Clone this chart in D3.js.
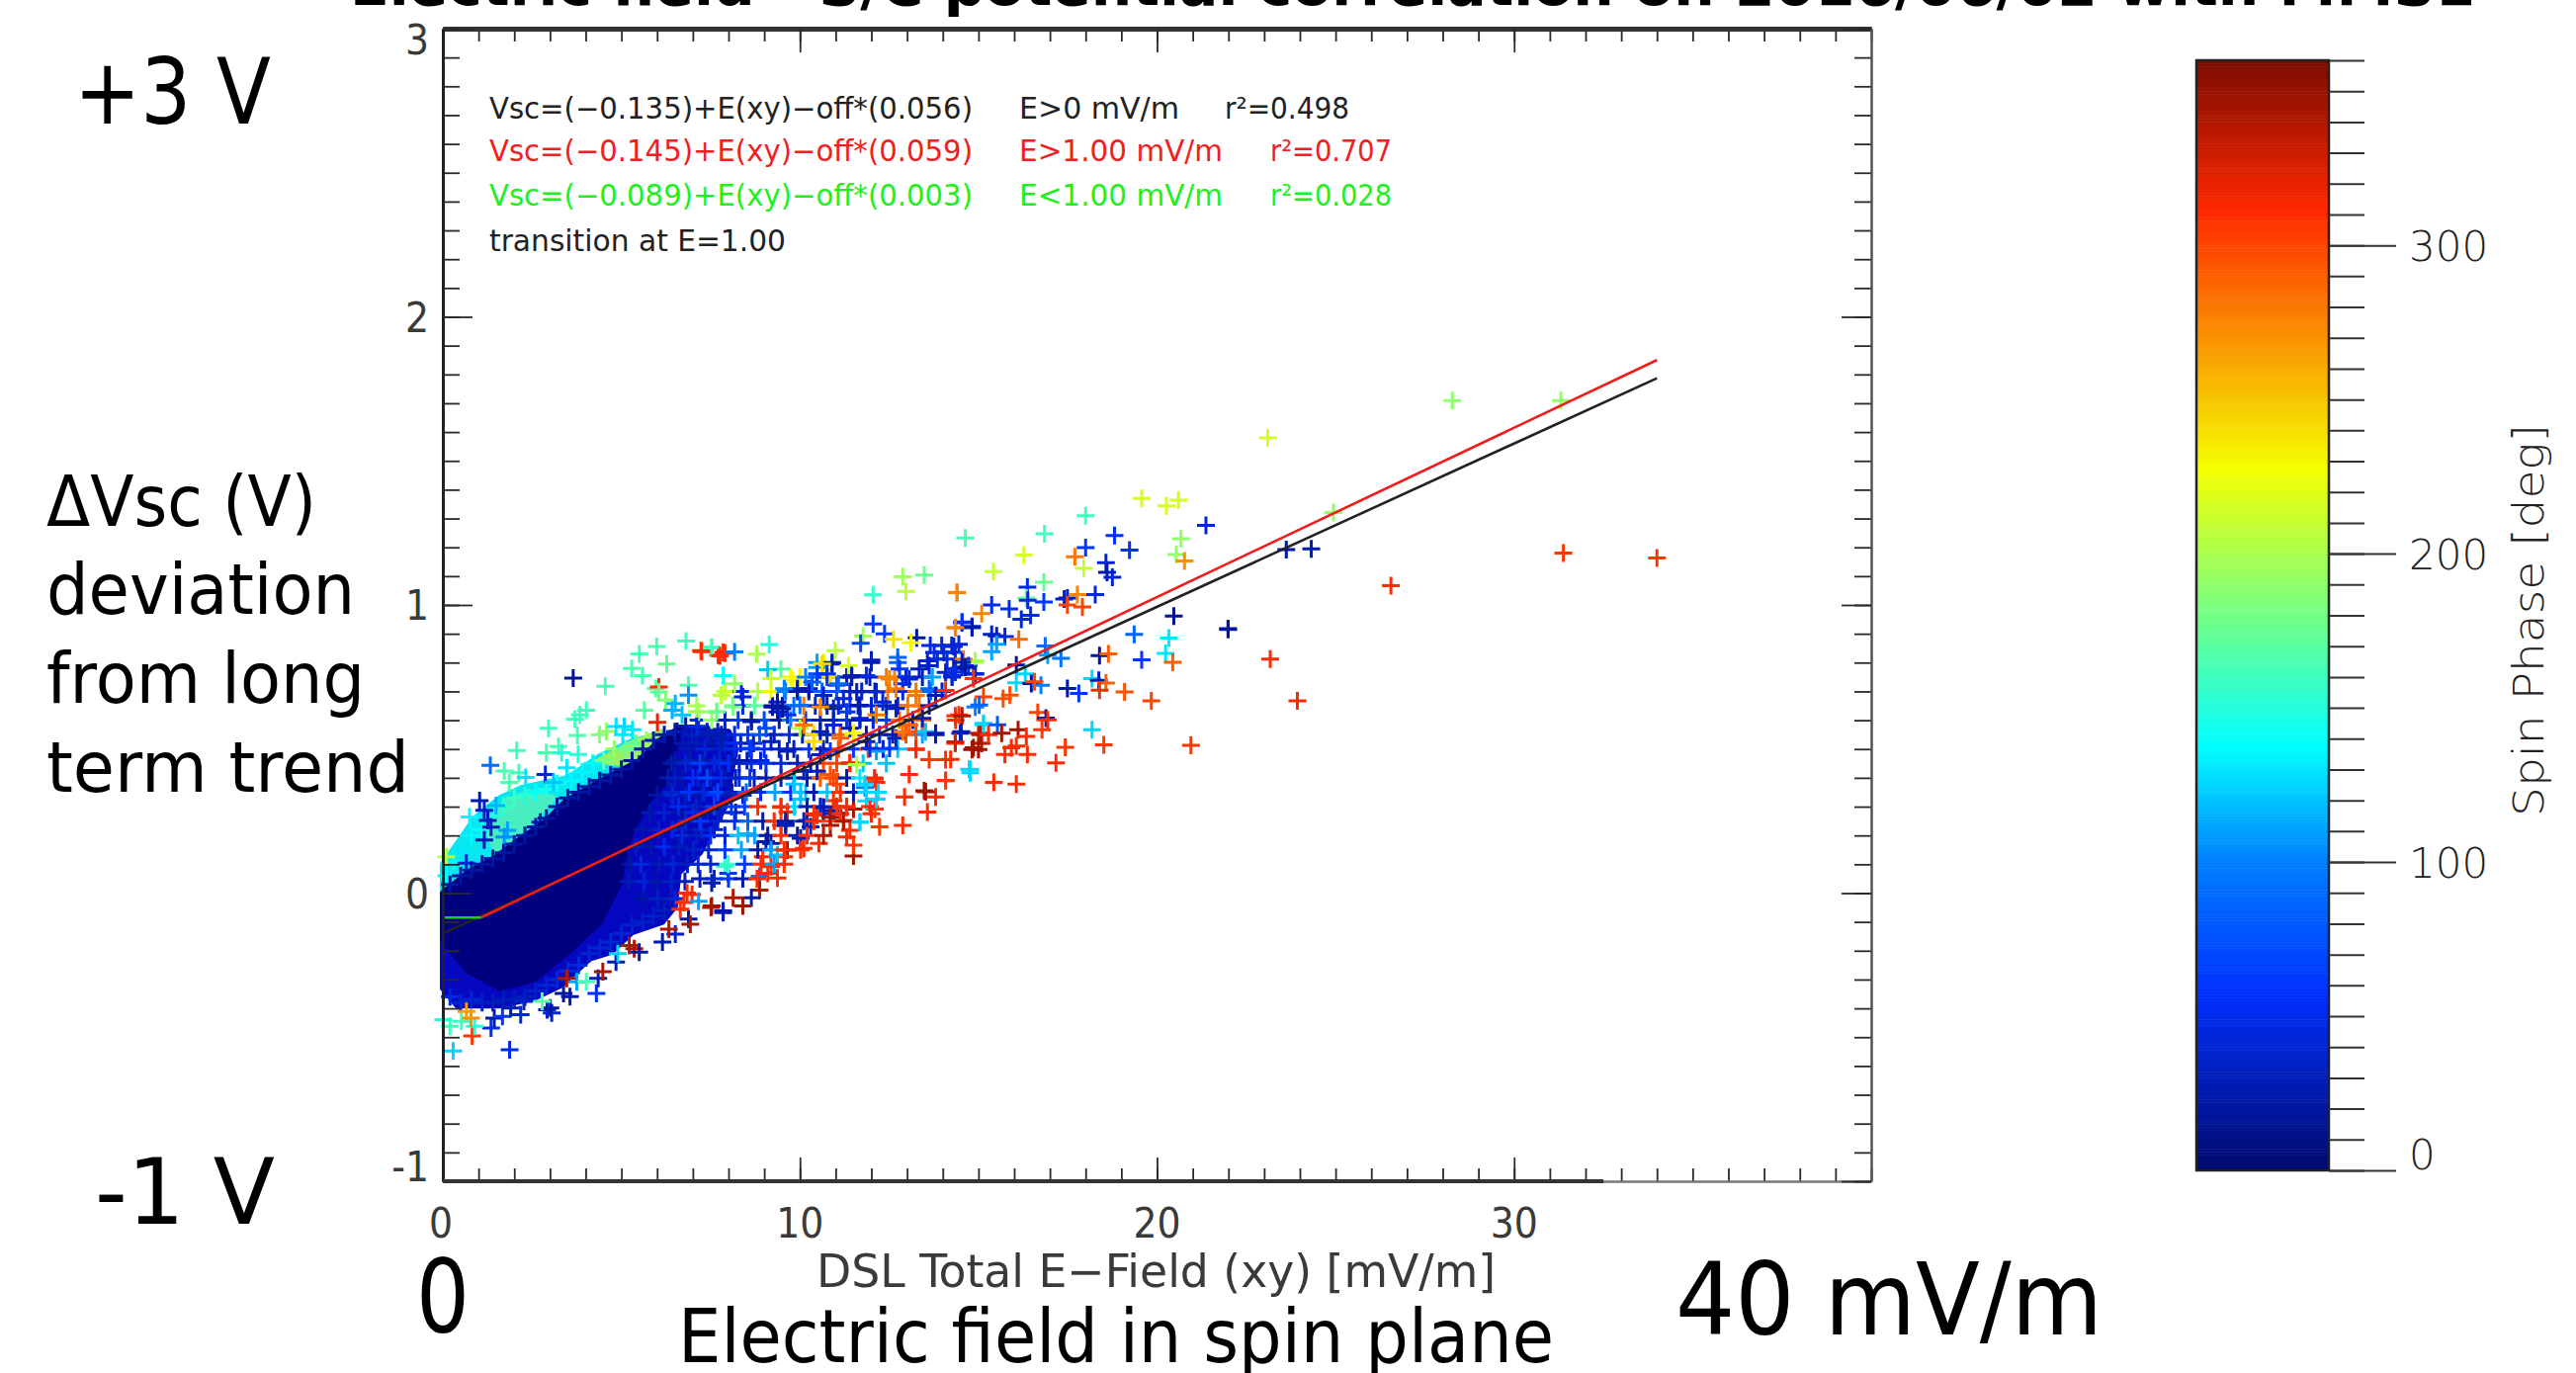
<!DOCTYPE html>
<html>
<head>
<meta charset="utf-8">
<script src="https://cdn.jsdelivr.net/npm/d3@7"></script>
<style>
    html, body { margin: 0; padding: 0; background: #fff; overflow: hidden; }
    text { font-family: "DejaVu Sans", sans-serif; }
    .idl { font-family: "Liberation Sans Narrow", "DejaVu Sans Condensed", sans-serif; fill: #3a3a3a; }
</style>
</head>
<body>
<div id="chart-area"></div>
<script>
// colour table of the spin phase bar
const phaseStops = [0, 57, 100, 137, 227, 311, 360];
const phaseColors = ["#000a6e", "#0030ff", "#0080ff", "#00ffff", "#f5ff00", "#ff2800", "#7a0b00"];

const xTicks = [0, 10, 20, 30];
const yTicks = [-1, 0, 1, 2, 3];
const phaseTicks = [0, 100, 200, 300];

// fit lines
const blackFit = [[0, -0.14], [34, 1.787]];
const redFit = [[1.07, -0.085], [34, 1.85]];
const greenFit = [[0, -0.085], [1.07, -0.085]];

// the middle of the cloud is solid in the picture, single crosses can't be told apart,
// so it is drawn as outlines read from its edges, [E, V]
const cyanOutline = [[0, -0.05], [0, 0.1], [0.4, 0.17], [0.9, 0.26], [1.6, 0.33], [2.2, 0.365], [3.5, 0.4], [4.4, 0.475], [5.3, 0.527], [6.05, 0.55], [6.05, 0.5], [4.4, 0.36], [3, 0.23], [1.5, 0.09], [0.5, 0]];
const greenOutline = [[1.3, 0.2], [1.7, 0.31], [2.4, 0.35], [3.1, 0.33], [2.6, 0.26], [2, 0.2], [1.5, 0.15]];
const limeOutline = [[4.4, 0.46], [5.3, 0.52], [6.1, 0.56], [5.8, 0.5], [5, 0.45]];
const blueOutline = [[0, -0.1], [0, -0.33], [0.4, -0.39], [1.6, -0.39], [2.55, -0.365], [3.3, -0.32], [4.1, -0.228], [4.7, -0.205], [5.3, -0.136], [6.15, -0.1], [6.5, -0.046], [6.6, 0.07], [7.2, 0.14], [7.9, 0.3], [8.2, 0.5], [8, 0.56], [6.6, 0.57], [5.5, 0.45], [3, 0.2]];
const navyOutline = [[0, 0], [0.7, 0.07], [1.5, 0.125], [2.1, 0.18], [2.9, 0.25], [3.46, 0.32], [4.1, 0.365], [4.76, 0.41], [5.5, 0.458], [6.05, 0.527], [6.6, 0.57], [6.3, 0.4], [5.8, 0.33], [5.3, 0.22], [5.1, 0.15], [4.95, 0.035], [4.4, -0.1], [3.5, -0.205], [2.55, -0.3], [1.6, -0.33], [0.7, -0.27], [0, -0.16]];

// crosses along the edges of the solid part, [E, V, phase]
const crossesCyanEdge = [[0.1, 0.06, 135], [0.3, 0.11, 135], [0.5, 0.14, 130], [0.8, 0.2, 135], [1.1, 0.22, 140], [1.4, 0.27, 150], [1.7, 0.3, 155], [2, 0.33, 160], [2.3, 0.34, 150], [2.6, 0.35, 140], [2.9, 0.36, 145], [3.2, 0.38, 140], [3.6, 0.39, 135], [3.9, 0.42, 135], [4.2, 0.45, 135], [4.5, 0.46, 180], [4.8, 0.5, 190], [5.1, 0.5, 175], [5.4, 0.52, 170], [5.7, 0.53, 195]];
const crossesCoreTop = [[0.2, 0.03, 20], [0.5, 0.06, 20], [0.8, 0.08, 20], [1.1, 0.1, 20], [1.4, 0.12, 20], [1.7, 0.14, 20], [2, 0.17, 20], [2.3, 0.2, 20], [2.6, 0.23, 20], [2.9, 0.26, 20], [3.2, 0.3, 20], [3.5, 0.33, 20], [3.8, 0.35, 20], [4.1, 0.37, 20], [4.4, 0.39, 20], [4.7, 0.41, 20], [5, 0.43, 20], [5.3, 0.46, 20], [5.6, 0.5, 25], [5.9, 0.53, 25], [6.2, 0.55, 25], [6.5, 0.56, 25], [6.8, 0.58, 25], [7.1, 0.55, 25], [7.4, 0.56, 30], [7.7, 0.56, 30]];
const crossesCoreBottom = [[0.2, -0.36, 45], [0.5, -0.38, 40], [0.8, -0.37, 40], [1.1, -0.38, 35], [1.4, -0.38, 30], [1.7, -0.37, 30], [2, -0.37, 30], [2.3, -0.36, 30], [2.6, -0.34, 35], [2.9, -0.32, 40], [3.2, -0.3, 40], [3.5, -0.27, 45], [3.8, -0.25, 45], [4.1, -0.21, 40], [4.4, -0.19, 40], [4.7, -0.17, 40], [5, -0.14, 40], [5.3, -0.11, 35], [5.6, -0.1, 35], [5.9, -0.08, 35], [6.2, -0.06, 30], [6.5, -0.02, 40]];

// the blue right end of the solid part, a rough reading row by row
const blueRows = [
    { v: -0.02, e: [5.6, 6.02, 6.38], p: [20, 32, 25] },
    { v: 0.04, e: [5.2, 5.64, 5.98, 6.4, 6.78], p: [25, 40, 20, 35, 30] },
    { v: 0.1, e: [5.25, 5.55, 6.05, 6.45], p: [20, 45, 25, 40] },
    { v: 0.16, e: [5.4, 5.82, 6.2, 6.62], p: [30, 20, 50, 28] },
    { v: 0.22, e: [5.6, 6.05, 6.42, 6.8, 7.24, 7.6], p: [20, 35, 45, 22, 40, 30] },
    { v: 0.28, e: [5.8, 6.2, 6.64, 7, 7.42, 7.8, 8.2], p: [22, 38, 20, 48, 25, 35, 30] },
    { v: 0.34, e: [6, 6.44, 6.8, 7.22, 7.6, 8.04, 8.4], p: [20, 45, 30, 22, 52, 25, 40] },
    { v: 0.4, e: [6.3, 6.7, 7.14, 7.5, 7.92, 8.3, 8.72], p: [24, 20, 40, 28, 20, 45, 25] },
    { v: 0.46, e: [6.5, 6.92, 7.3, 7.74, 8.1, 8.52, 8.9], p: [20, 30, 22, 42, 26, 20, 35] },
    { v: 0.52, e: [6.72, 7.1, 7.54, 7.9, 8.34, 8.7], p: [22, 28, 20, 38, 24, 30] }
];

// the crowded part, read row by row: one V, then its E values and phases
const denseRows = [
    { v: 0.05, e: [7.2, 7.6, 8, 8.4, 8.8], p: [30, 40, 60, 25, 310] },
    { v: 0.1, e: [6.85, 7.15, 7.5, 7.99, 8.45, 8.91, 9.28, 9.56], p: [30, 45, 40, 155, 60, 310, 110, 310] },
    { v: 0.15, e: [7.02, 7.44, 7.9, 8.36, 8.82, 9.19, 9.56, 10.02], p: [35, 40, 60, 110, 25, 110, 310, 310] },
    { v: 0.2, e: [6.7, 7.1, 7.5, 7.9, 8.27, 8.73, 9.1, 9.47, 9.93, 10.2, 10.66], p: [45, 30, 55, 40, 120, 110, 20, 310, 25, 310, 340] },
    { v: 0.25, e: [6.8, 7.2, 7.7, 8.17, 8.54, 8.96, 9.28, 9.6, 10.11, 10.39, 10.85, 11.22], p: [40, 60, 35, 50, 85, 25, 310, 25, 30, 310, 300, 340] },
    { v: 0.3, e: [6.6, 7.1, 7.6, 8.08, 8.45, 8.82, 9.47, 9.84, 10.2, 10.57, 11.03, 11.31, 11.96], p: [50, 35, 65, 60, 65, 310, 310, 125, 25, 35, 310, 310, 310] },
    { v: 0.35, e: [6.4, 6.9, 7.3, 7.7, 8.1, 8.5, 8.9, 9.3, 9.74, 10.02, 10.39, 10.76, 11.13, 11.5, 11.86, 12.19], p: [35, 60, 45, 70, 30, 85, 50, 110, 60, 120, 25, 120, 310, 25, 125, 125] },
    { v: 0.4, e: [6.5, 7, 7.4, 7.8, 8.2, 8.6, 9.05, 9.47, 9.83, 10.2, 10.57, 10.94, 11.31, 11.68, 12.09], p: [30, 55, 70, 50, 35, 60, 25, 30, 25, 25, 290, 300, 25, 130, 310] },
    { v: 0.45, e: [6.4, 6.8, 7.2, 7.6, 8, 8.3, 8.64, 9.05, 9.47, 9.93, 10.3, 10.66, 11.03, 11.4, 11.77, 12.42], p: [25, 40, 65, 45, 55, 30, 45, 55, 40, 30, 25, 300, 300, 310, 120, 120] },
    { v: 0.5, e: [6.9, 7.34, 7.76, 8.17, 8.59, 9, 9.42, 9.83, 10.25, 10.66, 11.08, 11.5, 11.91, 12.33, 12.74, 13.25], p: [25, 40, 35, 50, 60, 50, 35, 30, 60, 25, 300, 60, 300, 40, 120, 305] },
    { v: 0.55, e: [6.98, 7.44, 7.8, 8.17, 8.54, 8.87, 9.28, 9.7, 10.07, 10.39, 10.76, 11.13, 11.5, 11.86, 12.23, 12.6, 12.97, 13.43, 13.8], p: [30, 25, 25, 45, 60, 75, 30, 50, 25, 240, 30, 290, 230, 25, 40, 25, 295, 110, 25] },
    { v: 0.6, e: [7.16, 7.53, 7.9, 8.27, 8.64, 9, 9.42, 9.74, 10.16, 10.57, 10.94, 11.31, 11.68, 12.05, 12.42, 12.79, 13.16, 13.43, 14.36], p: [45, 190, 30, 60, 25, 70, 25, 100, 60, 30, 25, 55, 30, 35, 60, 280, 30, 280, 310] },
    { v: 0.65, e: [7.11, 8.13, 8.4, 8.73, 9.23, 9.51, 9.83, 10.11, 10.43, 10.76, 11.08, 11.4, 11.63, 12, 12.42, 12.74, 13.02, 13.34, 13.62], p: [200, 180, 45, 170, 20, 20, 90, 280, 40, 30, 40, 60, 25, 40, 30, 30, 280, 280, 30] },
    { v: 0.7, e: [7.9, 8.36, 8.82, 9.19, 9.6, 9.93, 10.25, 10.62, 11.03, 11.4, 11.73, 12.1, 12.46, 12.88, 13.25, 13.66, 13.98], p: [210, 40, 200, 230, 100, 25, 25, 85, 75, 30, 35, 25, 280, 40, 280, 85, 35] },
    { v: 0.75, e: [9.74, 10, 10.16, 10.48, 10.76, 10.85, 11.31, 11.45, 11.96, 12.42, 12.65, 12.97, 13.43, 13.71, 14.26], p: [230, 230, 100, 85, 60, 240, 25, 25, 30, 280, 275, 40, 30, 110, 30] },
    { v: 0.8, e: [10.48, 10.67, 10.9, 12, 12.74], p: [110, 220, 30, 25, 85] }
];

// single crosses [E, V, phase]
const crossesLeft = [[3.65, 0.746, 15], [6.81, 0.875, 160], [5.99, 0.856, 165], [5.5, 0.83, 165], [7.23, 0.841, 310], [7.53, 0.853, 160], [7.71, 0.826, 310], [7.9, 0.833, 310], [6.27, 0.795, 175], [5.29, 0.78, 165], [5.59, 0.755, 165], [4.55, 0.718, 165], [5.96, 0.71, 170], [6.05, 0.715, 310], [6.88, 0.721, 165], [7.85, 0.755, 140], [6.88, 0.687, 105], [6.05, 0.698, 175], [6.24, 0.67, 185], [7.8, 0.687, 215], [6.51, 0.658, 115], [6.42, 0.635, 115], [6.7, 0.618, 120], [5.64, 0.635, 170], [7.11, 0.63, 195], [7.67, 0.63, 190], [4.02, 0.635, 160], [3.84, 0.618, 160], [3.7, 0.604, 160], [2.96, 0.572, 160], [3.77, 0.547, 165], [4.39, 0.55, 185], [4.58, 0.561, 190], [4.85, 0.578, 130], [5.08, 0.578, 125], [5.31, 0.567, 130], [5.04, 0.55, 130], [6.01, 0.593, 320], [7.11, 0.578, 30], [2.07, 0.495, 160], [2.9, 0.487, 165], [3.24, 0.509, 165], [3.33, 0.487, 150], [3.79, 0.481, 150], [1.33, 0.443, 90], [1.72, 0.424, 165], [2.13, 0.418, 160], [1.86, 0.384, 165], [2.32, 0.401, 130], [2.87, 0.412, 40], [3.1, 0.384, 120], [3.47, 0.435, 130], [1.03, 0.321, 25], [1.16, 0.287, 35], [0.75, 0.264, 135], [1.26, 0.252, 30], [1.49, 0.304, 115], [1.35, 0.229, 30], [1.81, 0.218, 110], [1.72, 0.195, 105], [1.16, 0.184, 25], [0.66, 0.104, 40], [0.1, 0.126, 200], [2.73, 0.246, 35], [4.39, 0.389, 25], [5.5, 0.447, 30], [5.78, 0.475, 35], [6.33, 0.51, 30], [6.56, 0.561, 20], [7.16, 0.492, 30], [7.44, 0.526, 30], [7.8, 0.538, 30]];

const crossesBottom = [[0.29, -0.548, 125], [1.87, -0.544, 50], [0.82, -0.496, 305], [1.35, -0.468, 50], [0.2, -0.462, 160], [0.01, -0.439, 150], [0.52, -0.445, 160], [0.89, -0.462, 150], [0.79, -0.434, 270], [0.66, -0.411, 265], [1.44, -0.434, 25], [1.67, -0.428, 60], [2.18, -0.422, 45], [1.9, -0.399, 25], [2.92, -0.405, 35], [3.05, -0.416, 40], [3.01, -0.399, 20], [2.27, -0.376, 35], [2.78, -0.376, 170], [3.56, -0.359, 25], [3.38, -0.348, 20], [4.3, -0.348, 55], [4.35, -0.296, 25], [3.75, -0.308, 110], [4.02, -0.308, 165], [3.47, -0.296, 340], [4.48, -0.273, 340], [4.85, -0.239, 25], [4.9, -0.21, 125], [5.36, -0.193, 340], [5.5, -0.205, 20], [5.22, -0.182, 340], [6.15, -0.17, 25], [6.51, -0.142, 35], [6.33, -0.125, 340], [6.88, -0.09, 20], [6.93, -0.108, 340], [6.84, 0, 310], [6.75, -0.033, 310], [6.65, -0.056, 310], [6.98, -0.005, 310], [7.16, -0.028, 110], [7.51, -0.05, 340], [7.85, -0.062, 20]];

const crossesMiddleLow = [[11.5, 0.129, 345], [11.5, 0.166, 305], [11.31, 0.195, 310], [11.4, 0.218, 310], [9.37, 0.052, 310], [8.87, 0.058, 95], [9.1, 0.069, 310], [8.87, 0.01, 340], [8.64, -0.016, 25], [8.13, -0.016, 340], [8.4, -0.045, 345], [7.85, -0.068, 25], [7.53, -0.045, 345], [12.88, 0.235, 310], [12.23, 0.23, 305], [11.68, 0.246, 125], [13.57, 0.281, 310], [12.93, 0.334, 310], [13.48, 0.355, 345], [13.8, 0.334, 310], [14.08, 0.39, 305], [14.77, 0.418, 125], [12, 0.275, 310], [12.1, 0.292, 305], [11.22, 0.252, 310], [11.5, 0.292, 345], [11.86, 0.32, 125], [12.14, 0.327, 120], [10.66, 0.275, 25], [10.85, 0.235, 345], [10.48, 0.27, 310], [10.53, 0.172, 310], [10.11, 0.155, 310], [10.02, 0.19, 25], [10.3, 0.23, 35], [9.65, 0.149, 340], [9.56, 0.126, 310], [9.05, 0.178, 25], [9.19, 0.172, 25], [8.96, 0.126, 310], [9.37, 0.132, 120], [9.47, 0.235, 310], [9.6, 0.235, 30], [9.65, 0.281, 310], [10.02, 0.326, 120], [10.16, 0.349, 120], [10.66, 0.298, 30], [10.94, 0.286, 25], [11.82, 0.366, 100], [12.14, 0.384, 310], [10.2, 0.252, 30], [8.54, 0.206, 115], [7.9, 0.092, 155], [7.99, 0.069, 60], [7.53, 0.035, 25], [9.19, 0.092, 310], [10.94, 0.321, 310], [11.13, 0.275, 310]];

const crossesMiddleHigh = [[12.88, 1.098, 195], [13.48, 1.104, 175], [12.97, 1.047, 205], [14.4, 1.043, 280], [12.05, 1.035, 155], [12.05, 0.934, 60], [12.37, 0.9, 60], [11.77, 0.892, 195], [11.7, 0.867, 70], [12.62, 0.881, 240], [13.27, 0.886, 20], [13.11, 0.869, 230], [14.36, 0.921, 280], [14.54, 0.938, 55], [14.82, 0.921, 25], [9.14, 0.863, 150], [7.25, 0.838, 310], [7.53, 0.852, 160], [7.76, 0.823, 310], [7.85, 0.835, 310], [8.17, 0.837, 100], [8.79, 0.829, 200], [10.99, 0.841, 205], [9.47, 0.778, 170], [9.1, 0.775, 120], [7.85, 0.755, 140], [8.17, 0.726, 190], [10.9, 0.795, 30], [10.48, 0.783, 110], [12, 0.809, 30], [12.74, 0.818, 85], [14.91, 0.806, 195], [9.19, 0.744, 210], [9.79, 0.738, 230], [11.36, 0.789, 215], [10.62, 0.795, 240],
    [13.65, 0.859, 45], [13.97, 0.859, 45], [14.25, 0.859, 45], [14.45, 0.864, 40], [13.76, 0.835, 45], [14.03, 0.835, 45], [14.35, 0.835, 45], [13.57, 0.806, 40], [13.85, 0.812, 45], [14.12, 0.812, 45], [14.54, 0.783, 50], [14.3, 0.778, 45], [14.26, 0.755, 45], [14.86, 0.761, 40], [14.58, 0.812, 280],
    [14.08, 0.766, 35], [14.36, 0.778, 50], [14.72, 0.789, 50], [14.91, 0.761, 30], [13.34, 0.778, 30], [13.62, 0.789, 35], [12.79, 0.778, 60], [12.88, 0.726, 50], [12.51, 0.743, 275], [12.69, 0.709, 280], [13.06, 0.743, 40], [13.25, 0.686, 280], [13.62, 0.709, 85], [12.14, 0.698, 40], [11.86, 0.755, 50], [11.45, 0.755, 25], [11.03, 0.721, 75], [11.59, 0.698, 30], [11.22, 0.675, 40], [10.94, 0.641, 30], [10.66, 0.686, 35], [10.57, 0.646, 275], [10.25, 0.709, 25], [9.93, 0.709, 25], [10.48, 0.761, 60], [10.76, 0.761, 55], [10.34, 0.732, 80], [9.56, 0.709, 100], [10, 0.652, 90], [9.65, 0.618, 50], [9.37, 0.646, 20], [9.23, 0.646, 20], [9.51, 0.64, 20], [9.37, 0.663, 25], [9.37, 0.629, 25], [8.4, 0.681, 40], [8.64, 0.595, 25], [7.8, 0.686, 205], [8.13, 0.646, 180], [7.67, 0.629, 175], [7.16, 0.629, 195], [7.11, 0.578, 45], [7.8, 0.538, 25], [8.17, 0.521, 50], [9.05, 0.572, 70], [8.64, 0.503, 60], [9.19, 0.526, 30], [9.65, 0.492, 30], [10, 0.572, 200], [10.57, 0.56, 25], [10.94, 0.583, 40], [11.31, 0.629, 60], [11.68, 0.652, 25], [11.68, 0.606, 35], [12.32, 0.663, 40], [12.69, 0.641, 30], [12.14, 0.618, 280], [11.13, 0.538, 290], [10.85, 0.492, 60], [10.39, 0.526, 240], [10.11, 0.583, 280], [11.4, 0.572, 25], [10.57, 0.48, 30], [11.86, 0.526, 25], [11.5, 0.555, 230], [11.08, 0.726, 85],
    [14.45, 0.618, 310], [14.91, 0.646, 100], [15.14, 0.589, 125], [14.52, 0.56, 25], [15, 0.555, 330], [15.09, 0.52, 340], [14.35, 0.52, 310], [14.82, 0.498, 345], [13.25, 0.498, 310], [14.08, 0.463, 310], [13.62, 0.463, 305], [13.06, 0.412, 310], [14.77, 0.429, 125], [14.08, 0.391, 305], [13.52, 0.352, 345], [12.09, 0.395, 310], [11.4, 0.452, 310], [10.85, 0.412, 295], [11.03, 0.378, 300], [11.82, 0.378, 125], [12.14, 0.326, 125], [11.31, 0.298, 310], [11.68, 0.246, 125], [10.48, 0.423, 35], [10.11, 0.423, 30], [9.84, 0.378, 120], [10.66, 0.298, 30], [10.39, 0.275, 310], [10.85, 0.263, 345], [9.6, 0.24, 30], [9.47, 0.298, 310], [12.51, 0.503, 60], [12.69, 0.538, 30], [12.14, 0.492, 110], [11.96, 0.503, 50], [11.59, 0.446, 200], [13.25, 0.56, 300], [13.52, 0.56, 120], [13.8, 0.555, 25], [12.88, 0.56, 280], [13.06, 0.583, 290], [13.43, 0.606, 30], [13.8, 0.686, 25], [14.08, 0.703, 310]];

const crossesRight = [[19.57, 1.37, 215], [20.26, 1.344, 215], [20.6, 1.364, 215], [21.37, 1.276, 40], [18, 1.31, 160], [18.81, 1.241, 55], [19.23, 1.19, 55], [20.67, 1.23, 190], [20.54, 1.175, 190], [20.77, 1.153, 270], [14.63, 1.232, 165], [16.85, 1.247, 160], [16.27, 1.173, 215], [15.42, 1.116, 210], [18, 1.199, 60], [17.7, 1.167, 280], [17.95, 1.127, 210], [18.57, 1.147, 40], [18.6, 1.113, 25], [18.75, 1.096, 40], [16.83, 1.079, 175], [16.37, 1.062, 50], [14.4, 1.044, 275], [15.37, 1, 50], [15.86, 0.986, 55], [16.34, 1.024, 175], [16.38, 1.016, 45], [16.83, 1.01, 60], [17.4, 1.021, 35], [17.49, 1.024, 35], [17.77, 1.036, 275], [18.27, 1.036, 45], [17.49, 1, 300], [17.91, 0.993, 300], [15.09, 0.97, 275], [16.2, 0.95, 45], [16.46, 0.964, 50], [14.54, 0.941, 55], [14.82, 0.925, 25], [14.35, 0.921, 275], [15.37, 0.898, 35], [15.51, 0.893, 30], [15.74, 0.89, 45], [16.13, 0.881, 285], [14.31, 0.856, 40], [16.87, 0.858, 90], [15.37, 0.838, 110], [15.51, 0.864, 110], [17.31, 0.815, 95], [16.94, 0.826, 110], [19.36, 0.898, 85], [20.47, 0.961, 15], [21.99, 0.918, 15], [20.33, 0.885, 130], [20.24, 0.832, 130], [20.44, 0.801, 290], [19.57, 0.81, 60], [18.39, 0.824, 20], [18.64, 0.83, 290], [16.06, 0.792, 15], [16.31, 0.761, 125], [16.06, 0.73, 125], [16.48, 0.727, 20], [16.75, 0.721, 100], [16.57, 0.733, 300], [17.49, 0.71, 20], [17.81, 0.693, 60], [18.18, 0.744, 125], [18.37, 0.738, 25], [18.57, 0.729, 290], [18.39, 0.704, 310], [19.09, 0.698, 295], [19.84, 0.667, 300], [14.91, 0.801, 200], [14.63, 0.784, 20], [14.35, 0.767, 45], [14.91, 0.761, 40], [14.54, 0.801, 25], [14.86, 0.744, 305], [15.14, 0.681, 300], [15.69, 0.675, 295], [15.88, 0.687, 295], [15.02, 0.653, 85], [14.35, 0.615, 310], [14.54, 0.615, 340], [16.66, 0.627, 300], [16.89, 0.607, 30], [16.94, 0.601, 310], [15.14, 0.584, 125], [15.53, 0.584, 80], [14.49, 0.555, 30], [15.05, 0.55, 340], [15.28, 0.55, 310], [15.65, 0.555, 345], [16.11, 0.567, 345], [16.34, 0.544, 310], [16.78, 0.567, 305], [18.18, 0.567, 125], [18.51, 0.515, 305], [20.95, 0.513, 305], [17.43, 0.506, 305], [15.92, 0.504, 310], [15.74, 0.481, 310], [16.06, 0.51, 310], [16.37, 0.481, 310], [17.17, 0.452, 310], [14.35, 0.525, 330], [14.86, 0.504, 345], [15, 0.498, 345], [14.22, 0.464, 310], [14.74, 0.43, 125], [15.43, 0.384, 310], [16.06, 0.378, 310],
    [28.27, 1.709, 190], [31.31, 1.709, 190], [23.1, 1.58, 215], [24.94, 1.321, 190], [31.38, 1.18, 305], [34, 1.163, 305], [26.55, 1.067, 310], [23.62, 1.192, 20], [24.32, 1.195, 25], [23.17, 0.812, 310], [23.93, 0.667, 310], [21.99, 0.915, 20]];

const width = 2606;
const height = 1389;
const plot = { left: 448, right: 1893, top: 29, bottom: 1195 };
const bar = { left: 2222, right: 2356, top: 61, bottom: 1184 };

const svg = d3.select('#chart-area')
    .append('svg')
    .attr("width", width)
    .attr("height", height)
    .style("display", "block");

const x = d3.scaleLinear().domain([0, 40]).range([plot.left, plot.right]);
const y = d3.scaleLinear().domain([-1, 3]).range([plot.bottom, plot.top]);
const phaseY = d3.scaleLinear().domain([0, 360]).range([bar.bottom, bar.top]);
const color = d3.scaleLinear().domain(phaseStops).range(phaseColors);

const edge = d3.line().x(d => x(d[0])).y(d => y(d[1]));
const rowsToCrosses = rows => rows.flatMap(r => r.e.map((e, i) => [e, r.v, r.p[i]]));

function patch(rows, fill) {
    svg.append('path')
        .attr('d', edge(rows) + 'Z')
        .attr('fill', fill)
        .attr('stroke', fill)
        .attr('stroke-width', 6)
        .attr('stroke-linejoin', 'round');
}

function crosses(rows) {
    svg.append('g')
        .selectAll('path')
        .data(rows)
        .enter()
        .append('path')
        .attr('d', 'M-9,0H9M0,-9V9')
        .attr('transform', d => `translate(${x(d[0])},${y(d[1])})`)
        .attr('fill', 'none')
        .attr('stroke', d => color(d[2]))
        .attr('stroke-width', 3);
}

// the cloud
patch(cyanOutline, "#08e6f0");
patch(greenOutline, "#48eec0");
patch(limeOutline, "#9cf060");
crosses(crossesCyanEdge);
crosses(crossesLeft);
patch(blueOutline, "#0508c0");
patch(navyOutline, "#00007e");
crosses(rowsToCrosses(blueRows));
crosses(crossesCoreTop);
crosses(crossesCoreBottom);
crosses(crossesBottom);
crosses(crossesMiddleLow);
crosses(rowsToCrosses(denseRows));
crosses(crossesMiddleHigh);
crosses(crossesRight);

// fit lines
[[blackFit, "#222"], [redFit, "#f01c1c"], [greenFit, "#18d018"]].forEach(d => {
    svg.append('path')
        .attr('d', edge(d[0]))
        .attr('fill', 'none')
        .attr('stroke', d[1])
        .attr('stroke-width', 2.6);
});

// plot axes, IDL style with ticks on all four sides pointing in
function styleAxis(g, w, c) {
    g.select('.domain').attr('stroke', c).attr('stroke-width', w);
    g.selectAll('.tick line').attr('stroke', '#2a2a2a').attr('stroke-width', 1.8);
    g.selectAll('.tick text').remove();
}
const xMinor = d3.range(0, 41);
const yMinor = d3.range(-1, 3.01, 0.1);

svg.append('g').attr('transform', `translate(0,${plot.bottom})`)
    .call(d3.axisTop(x).tickValues(xMinor).tickSizeInner(13).tickSizeOuter(0))
    .call(g => styleAxis(g, 2, "#777"));
svg.append('g').attr('transform', `translate(0,${plot.bottom})`)
    .call(d3.axisTop(x).tickValues(xTicks).tickSizeInner(24).tickSizeOuter(0))
    .call(g => styleAxis(g, 2, "#777"));
svg.append('g').attr('transform', `translate(0,${plot.top})`)
    .call(d3.axisBottom(x).tickValues(xMinor).tickSizeInner(13).tickSizeOuter(0))
    .call(g => styleAxis(g, 5, "#333"));
svg.append('g').attr('transform', `translate(0,${plot.top})`)
    .call(d3.axisBottom(x).tickValues(xTicks).tickSizeInner(24).tickSizeOuter(0))
    .call(g => styleAxis(g, 5, "#333"));
svg.append('g').attr('transform', `translate(${plot.left},0)`)
    .call(d3.axisRight(y).tickValues(yMinor).tickSizeInner(17).tickSizeOuter(0))
    .call(g => styleAxis(g, 3, "#222"));
svg.append('g').attr('transform', `translate(${plot.left},0)`)
    .call(d3.axisRight(y).tickValues(yTicks).tickSizeInner(30).tickSizeOuter(0))
    .call(g => styleAxis(g, 3, "#222"));
svg.append('g').attr('transform', `translate(${plot.right},0)`)
    .call(d3.axisLeft(y).tickValues(yMinor).tickSizeInner(17).tickSizeOuter(0))
    .call(g => styleAxis(g, 2, "#555"));
svg.append('g').attr('transform', `translate(${plot.right},0)`)
    .call(d3.axisLeft(y).tickValues(yTicks).tickSizeInner(30).tickSizeOuter(0))
    .call(g => styleAxis(g, 2, "#555"));
// bottom axis is heavier up to about E=32.5
svg.append('path')
    .attr('d', edge([[0, -1], [32.5, -1]]))
    .attr('stroke', '#333')
    .attr('stroke-width', 4);

// tick labels
svg.selectAll('.xlab')
    .data(xTicks)
    .enter()
    .append('text')
    .attr('class', 'idl')
    .attr('x', d => x(d) - (d === 0 ? 2 : 0))
    .attr('y', 1252)
    .attr('text-anchor', 'middle')
    .attr('font-size', 42)
    .text(d => d);

svg.selectAll('.ylab')
    .data(yTicks)
    .enter()
    .append('text')
    .attr('class', 'idl')
    .attr('x', 434)
    .attr('y', d => y(d) + (d === 3 ? 26 : d === -1 ? 0 : 15))
    .attr('text-anchor', 'end')
    .attr('font-size', 42)
    .text(d => d === -1 ? "-1" : d);

svg.append('text')
    .attr('class', 'idl')
    .attr('x', 826)
    .attr('y', 1302)
    .attr('font-size', 46)
    .attr('textLength', 687)
    .attr('lengthAdjust', 'spacingAndGlyphs')
    .text("DSL Total E\u2212Field (xy) [mV/m]");

// fit legend
const legendRows = [
    { y: 120, c: "#222", parts: ["Vsc=(\u22120.135)+E(xy)\u2212off*(0.056)", "E>0 mV/m", "r\u00b2=0.498"], xs: [495, 1031, 1239], ws: [489, 162, 126] },
    { y: 163, c: "#f02020", parts: ["Vsc=(\u22120.145)+E(xy)\u2212off*(0.059)", "E>1.00 mV/m", "r\u00b2=0.707"], xs: [495, 1031, 1285], ws: [489, 206, 123] },
    { y: 208, c: "#20f020", parts: ["Vsc=(\u22120.089)+E(xy)\u2212off*(0.003)", "E<1.00 mV/m", "r\u00b2=0.028"], xs: [495, 1031, 1285], ws: [489, 206, 123] },
    { y: 254, c: "#222", parts: ["transition at E=1.00"], xs: [495], ws: [300] }
];
legendRows.forEach(row => {
    row.parts.forEach((t, i) => {
        svg.append('text')
            .attr('class', 'idl')
            .style('fill', row.c)
            .attr('x', row.xs[i])
            .attr('y', row.y)
            .attr('font-size', 30)
            .attr('textLength', row.ws[i])
            .attr('lengthAdjust', 'spacingAndGlyphs')
            .text(t);
    });
});

// colour bar
svg.selectAll('.band')
    .data(d3.range(0, 360))
    .enter()
    .append('rect')
    .attr('x', bar.left)
    .attr('width', bar.right - bar.left)
    .attr('y', d => phaseY(d + 1))
    .attr('height', d => phaseY(d) - phaseY(d + 1) + 0.5)
    .attr('fill', d => color(d));
svg.append('rect')
    .attr('x', bar.left)
    .attr('y', bar.top)
    .attr('width', bar.right - bar.left)
    .attr('height', bar.bottom - bar.top)
    .attr('fill', 'none')
    .attr('stroke', '#222')
    .attr('stroke-width', 2.5);

const phaseAxis = g => {
    g.select('.domain').remove();
    g.selectAll('.tick line').attr('stroke', '#333').attr('stroke-width', 2);
    g.selectAll('.tick text').remove();
};
svg.append('g').attr('transform', `translate(${bar.right},0)`)
    .call(d3.axisRight(phaseY).tickValues(d3.range(0, 361, 10)).tickSize(36))
    .call(phaseAxis);
svg.append('g').attr('transform', `translate(${bar.right},0)`)
    .call(d3.axisRight(phaseY).tickValues(phaseTicks).tickSize(68))
    .call(phaseAxis);

svg.selectAll('.plab')
    .data(phaseTicks)
    .enter()
    .append('text')
    .attr('x', 2437)
    .attr('y', d => phaseY(d) + (d === 0 ? -1 : 16))
    .attr('font-size', 42)
    .attr('font-weight', 200)
    .attr('fill', '#222')
    .text(d => d);

svg.append('text')
    .attr('transform', 'translate(2573,826) rotate(-90)')
    .attr('font-size', 42)
    .attr('font-weight', 200)
    .attr('fill', '#222')
    .attr('textLength', 397)
    .attr('lengthAdjust', 'spacingAndGlyphs')
    .text("Spin Phase [deg]");

// slide annotations on top of the plot
const notes = [
    { t: "Electric field - S/C potential correlation on 2016/06/02 with MMS1", x: 354, y: 5, s: 56, w: 2150, b: 700 },
    { t: "+3 V", x: 75, y: 125, s: 92, w: 199 },
    { t: "-1 V", x: 96, y: 1238, s: 92, w: 182 },
    { t: "\u0394Vsc (V)", x: 47, y: 532, s: 72, w: 273 },
    { t: "deviation", x: 47, y: 621, s: 72, w: 312 },
    { t: "from long", x: 47, y: 711, s: 72, w: 322 },
    { t: "term trend", x: 47, y: 801, s: 72, w: 367 },
    { t: "0", x: 421, y: 1348, s: 104, w: 54 },
    { t: "40 mV/m", x: 1695, y: 1350, s: 102, w: 432 },
    { t: "Electric field in spin plane", x: 686, y: 1378, s: 74, w: 886 }
];
svg.selectAll('.note')
    .data(notes)
    .enter()
    .append('text')
    .attr('x', d => d.x)
    .attr('y', d => d.y)
    .attr('font-size', d => d.s)
    .attr('font-weight', d => d.b || 400)
    .attr('textLength', d => d.w)
    .attr('lengthAdjust', 'spacingAndGlyphs')
    .attr('fill', '#000')
    .text(d => d.t);
</script>
</body>
</html>
